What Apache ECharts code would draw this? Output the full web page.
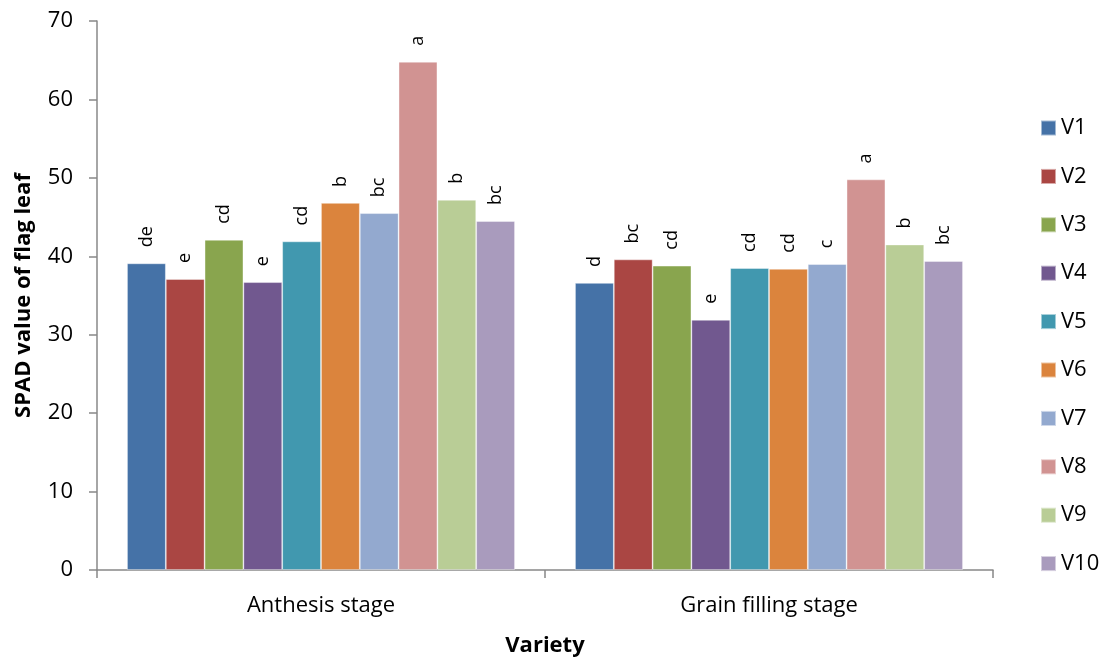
<!DOCTYPE html>
<html>
<head>
<meta charset="utf-8">
<script src="https://cdn.jsdelivr.net/npm/echarts@6/dist/echarts.min.js"></script>
<style>
html,body{margin:0;padding:0;background:#fff;}
#chart{width:1105px;height:662px;}
</style>
</head>
<body>
<div id="chart"></div>
<script>
var categories = ['Anthesis stage', 'Grain filling stage'];
var varieties = ['V1','V2','V3','V4','V5','V6','V7','V8','V9','V10'];
var anthesis = [39.1, 37.1, 42.1, 36.7, 41.9, 46.8, 45.5, 64.8, 47.2, 44.5];
var grainFilling = [36.6, 39.6, 38.8, 31.9, 38.5, 38.4, 39.0, 49.8, 41.5, 39.4];
var lettersAnthesis = ['de','e','cd','e','cd','b','bc','a','b','bc'];
var lettersGrain = ['d','bc','cd','e','cd','cd','c','a','b','bc'];
var yTicks = [0, 10, 20, 30, 40, 50, 60, 70];
var colors = ['#4572A7','#AA4643','#89A54E','#71588F','#4198AF','#DB843D','#93A9CF','#D19392','#B9CD96','#A99BBD'];

var FONT = 'Open Sans';
var chart = echarts.init(document.getElementById('chart'));

var series = varieties.map(function (v, i) {
  return {
    name: v,
    type: 'bar',
    barGap: '0%',
    barCategoryGap: '13.4%',
    itemStyle: { color: colors[i], borderColor: 'rgba(255,255,255,0.5)', borderWidth: 0.8 },
    label: {
      show: true,
      position: 'top',
      rotate: 90,
      align: 'left',
      verticalAlign: 'middle',
      distance: 16,
      fontFamily: FONT,
      fontSize: 18,
      color: '#000',
      formatter: function (p) {
        return p.dataIndex === 0 ? lettersAnthesis[i] : lettersGrain[i];
      }
    },
    data: [anthesis[i], grainFilling[i]]
  };
});

chart.setOption({
  animation: false,
  color: colors,
  grid: { left: 97, right: 112, top: 21, bottom: 90, containLabel: false },
  legend: {
    orient: 'vertical',
    left: 1035,
    top: 112,
    itemWidth: 15,
    itemHeight: 15,
    itemGap: 26.4,
    icon: 'rect',
    textStyle: { fontFamily: FONT, fontSize: 22, color: '#000' },
    data: varieties
  },
  xAxis: {
    type: 'category',
    data: categories,
    name: 'Variety',
    nameLocation: 'middle',
    nameGap: 65,
    nameTextStyle: { fontFamily: FONT, fontSize: 22, fontWeight: 'bold', color: '#000' },
    axisLine: { lineStyle: { color: '#888', width: 1.5 } },
    axisTick: { show: true, length: 8, lineStyle: { color: '#888', width: 1.5 } },
    axisLabel: { fontFamily: FONT, fontSize: 22, color: '#000', margin: 25 },
    splitLine: { show: false }
  },
  yAxis: {
    type: 'value',
    min: yTicks[0],
    max: yTicks[yTicks.length - 1],
    interval: 10,
    name: 'SPAD value of flag leaf',
    nameLocation: 'middle',
    nameGap: 62,
    nameTextStyle: { fontFamily: FONT, fontSize: 22, fontWeight: 'bold', color: '#000' },
    axisLine: { show: true, lineStyle: { color: '#888', width: 1.5 } },
    axisTick: { show: true, length: 8, lineStyle: { color: '#888', width: 1.5 } },
    axisLabel: { fontFamily: FONT, fontSize: 22, color: '#000', margin: 24 },
    splitLine: { show: false }
  },
  series: series
});
</script>
</body>
</html>
